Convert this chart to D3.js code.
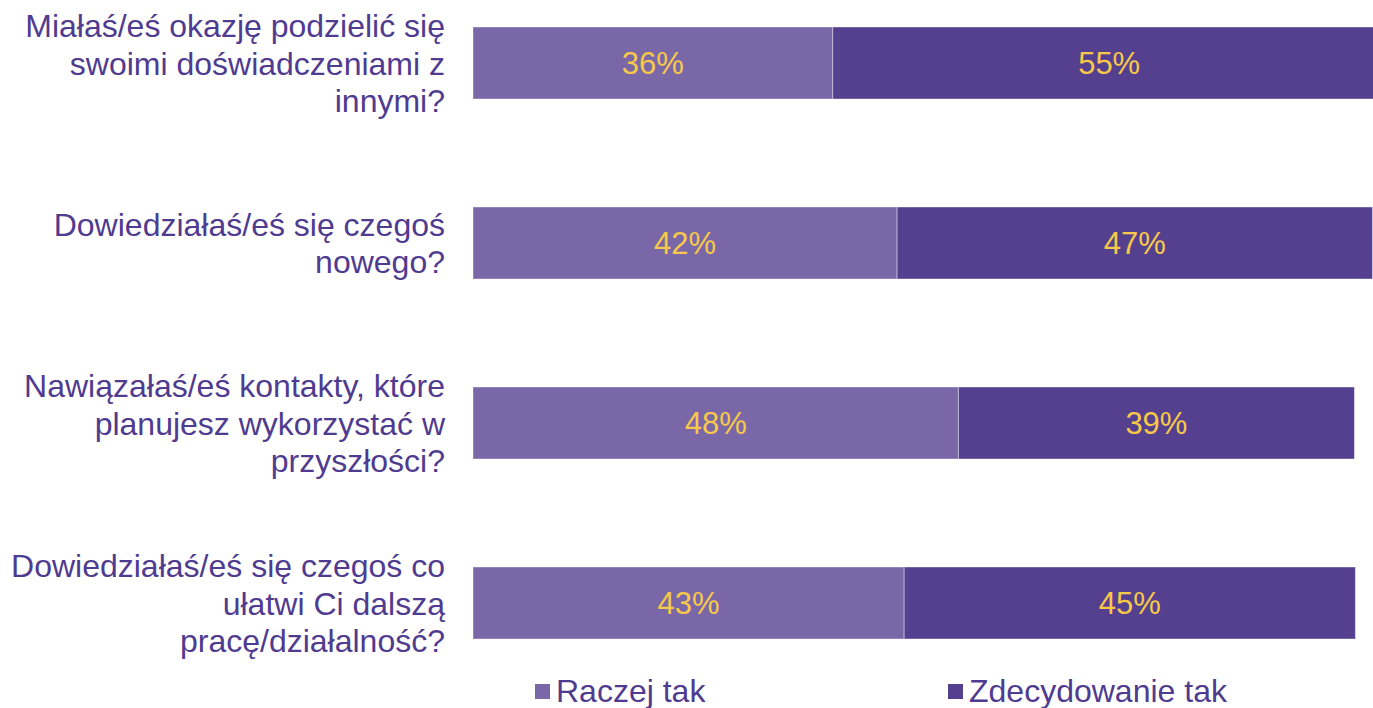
<!DOCTYPE html>
<html>
<head>
<meta charset="utf-8">
<script src="https://cdn.jsdelivr.net/npm/d3@7"></script>
<style>
  body { margin: 0; background: #fff; }
  svg { display: block; font-family: "Liberation Sans", Arial, sans-serif; }
</style>
</head>
<body>
<script>
'use strict';

// questions (top to bottom), each split into the lines shown
const questions = [
  ["Miałaś/eś okazję podzielić się", "swoimi doświadczeniami z", "innymi?"],
  ["Dowiedziałaś/eś się czegoś", "nowego?"],
  ["Nawiązałaś/eś kontakty, które", "planujesz wykorzystać w", "przyszłości?"],
  ["Dowiedziałaś/eś się czegoś co", "ułatwi Ci dalszą", "pracę/działalność?"]
];
const seriesNames = ["Raczej tak", "Zdecydowanie tak"];
const raczejTak = [35.8, 42.2, 48.3, 42.9];
const zdecydowanieTak = [55.0, 47.3, 39.4, 44.9];

const width = 1373, height = 708;
const colors = ["#7967a8", "#54408f"];
const textColor = "#4f3b90";
const valueColor = "#f7c948";

const svg = d3.select("body").append("svg")
  .attr("width", width)
  .attr("height", height);

const ids = questions.map((q, i) => i);

// x scale: 0-100 %, chart is cut by the right edge like the original
const x = d3.scaleLinear().domain([0, 100]).range([473, 1478]);
const y = d3.scaleBand().domain(ids).range([-27, 693])
  .paddingInner(0.6).paddingOuter(0.3);
const color = d3.scaleOrdinal().domain(seriesNames).range(colors);

const rows = ids.map(i => ({ id: i, "Raczej tak": raczejTak[i], "Zdecydowanie tak": zdecydowanieTak[i] }));
const stacked = d3.stack().keys(seriesNames)(rows);

// bars
const layers = svg.selectAll(".layer")
  .data(stacked)
  .enter().append("g")
  .attr("class", "layer")
  .attr("fill", d => color(d.key));

layers.selectAll("rect")
  .data(d => d)
  .enter().append("rect")
  .attr("x", d => x(d[0]))
  .attr("y", d => y(d.data.id))
  .attr("width", d => x(d[1]) - x(d[0]))
  .attr("height", y.bandwidth())
  .attr("stroke", "rgba(255,255,255,0.4)")
  .attr("stroke-width", 1);

// value labels
layers.selectAll("text")
  .data(d => d)
  .enter().append("text")
  .attr("x", d => (x(d[0]) + x(d[1])) / 2)
  .attr("y", d => y(d.data.id) + y.bandwidth() / 2)
  .attr("dy", "0.36em")
  .attr("text-anchor", "middle")
  .style("font-size", "31px")
  .attr("fill", valueColor)
  .text(d => Math.round(d[1] - d[0]) + "%");

// category labels
const lineH = 37.5;
questions.forEach((lines, i) => {
  const cy = y(i) + y.bandwidth() / 2;
  const t = svg.append("text")
    .attr("text-anchor", "end")
    .attr("fill", textColor)
    .style("font-size", "32px");
  lines.forEach((ln, j) => {
    t.append("tspan")
      .attr("x", 445)
      .attr("y", cy + (j - (lines.length - 1) / 2) * lineH)
      .attr("dy", "0.36em")
      .text(ln);
  });
});

// legend
const legendX = [535, 948];
const legend = svg.selectAll(".legend")
  .data(seriesNames)
  .enter().append("g")
  .attr("class", "legend")
  .attr("transform", (d, i) => "translate(" + legendX[i] + ",684)");

legend.append("rect")
  .attr("width", 15)
  .attr("height", 15)
  .attr("fill", d => color(d));

legend.append("text")
  .attr("x", 21)
  .attr("y", 18)
  .attr("fill", textColor)
  .style("font-size", "32px")
  .text(d => d);
</script>
</body>
</html>
